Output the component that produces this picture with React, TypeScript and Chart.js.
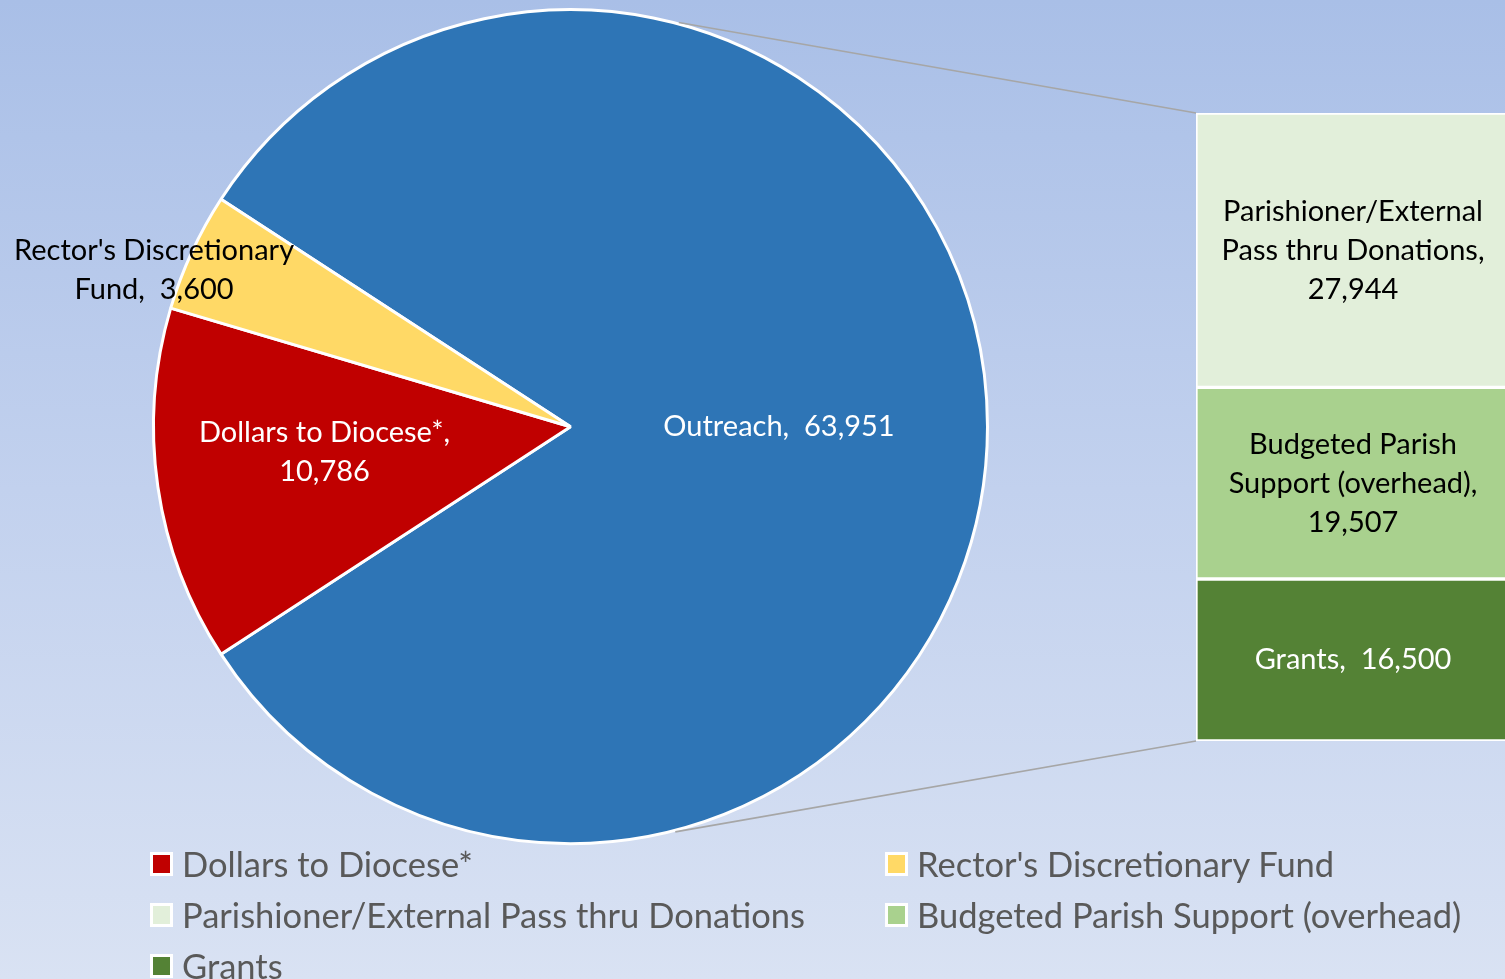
import React, { useEffect, useRef } from "react";
import { Chart, registerables } from "chart.js";
Chart.register(...registerables);

// ---- data ----
const pieNames = ["Outreach", "Dollars to Diocese*", "Rector's Discretionary Fund"];
const pieValues = [63951, 10786, 3600];
const pieColors = ["#2E75B6", "#C00000", "#FFD966"];
const pieLabelWrap = [["Outreach,  {v}"], ["Dollars to Diocese*,", "{v}"], ["Rector's Discretionary", "Fund,  {v}"]];

const barNames = ["Grants", "Budgeted Parish Support (overhead)", "Parishioner/External Pass thru Donations"];
const barValues = [16500, 19507, 27944];
const barColors = ["#548235", "#A9D18E", "#E2EFDA"];
const barLabelWrap = [["Grants,  {v}"], ["Budgeted Parish", "Support (overhead),", "{v}"], ["Parishioner/External", "Pass thru Donations,", "{v}"]];

const legendNames = ["Dollars to Diocese*", "Rector's Discretionary Fund", "Parishioner/External Pass thru Donations", "Budgeted Parish Support (overhead)", "Grants"];
const legendColors = ["#C00000", "#FFD966", "#E2EFDA", "#A9D18E", "#548235"];

// ---- layout ----
const W = 1505;
const H = 979;
const PIE_CX = 570.5;
const PIE_CY = 426.7;
const PIE_R = 417;
const BAR_LEFT = 1196;
const BAR_TOP = 113;
const BAR_BOTTOM = 741;
const BAR_CANVAS_X = 1190;
const BAR_CANVAS_W = 320;
const LABEL_FONT = "29px Lato";
const LINE_H = 39;
const LEGEND_COL_X = [150, 885];
const LEGEND_ROW_Y = [864, 915, 965.5];

const fmt = (v: number) => v.toLocaleString("en-US");

function drawLines(ctx: CanvasRenderingContext2D, lines: string[], x: number, y: number, color: string) {
  ctx.save();
  ctx.font = LABEL_FONT;
  ctx.fillStyle = color;
  ctx.textAlign = "center";
  ctx.textBaseline = "middle";
  const n = lines.length;
  lines.forEach((l, i) => {
    ctx.fillText(l, x, y + (i - (n - 1) / 2) * LINE_H);
  });
  ctx.restore();
}

const pieLabelPos = [
  { f: 0.5, dx: 0, dy: 0, color: "#FFFFFF" },
  { f: 0.596, dx: 0, dy: -10, color: "#FFFFFF" },
  { f: 1.1, dx: 0, dy: 36, color: "#000000" },
];

export default function App() {
  const pieRef = useRef<HTMLCanvasElement>(null);
  const barRef = useRef<HTMLCanvasElement>(null);

  useEffect(() => {
    const total = pieValues.reduce((a, b) => a + b, 0);
    const rotation = 90 - (pieValues[0] / total) * 180;

    const pieLabelsPlugin = {
      id: "pieLabels",
      afterDatasetsDraw(chart: any) {
        const ctx = chart.ctx;
        const meta = chart.getDatasetMeta(0);
        // connector lines from "Outreach" slice to bar
        const a0: any = meta.data[0];
        const cx = a0.x, cy = a0.y, r = a0.outerRadius + 1.5;
        ctx.save();
        ctx.strokeStyle = "#A6A6A6";
        ctx.lineWidth = 1.6;
        const angT = (-75 * Math.PI) / 180;
        const angB = (75.5 * Math.PI) / 180;
        ctx.beginPath();
        ctx.moveTo(cx + r * Math.cos(angT), cy + r * Math.sin(angT));
        ctx.lineTo(BAR_LEFT, BAR_TOP);
        ctx.moveTo(cx + r * Math.cos(angB), cy + r * Math.sin(angB));
        ctx.lineTo(BAR_LEFT, BAR_BOTTOM);
        ctx.stroke();
        ctx.restore();

        meta.data.forEach((arc: any, i: number) => {
          const mid = (arc.startAngle + arc.endAngle) / 2;
          const p = pieLabelPos[i];
          const d = arc.outerRadius * p.f;
          const x = arc.x + d * Math.cos(mid) + p.dx;
          const y = arc.y + d * Math.sin(mid) + p.dy;
          const lines = pieLabelWrap[i].map((s) => s.replace("{v}", fmt(pieValues[i])));
          drawLines(ctx, lines, x, y, p.color);
        });
      },
    };

    const pie = new Chart(pieRef.current!, {
      type: "pie",
      data: {
        labels: pieNames,
        datasets: [
          {
            data: pieValues,
            backgroundColor: pieColors,
            borderColor: "#FFFFFF",
            borderWidth: 3,
          },
        ],
      },
      options: {
        responsive: false,
        animation: false,
        events: [],
        rotation,
        radius: PIE_R,
        layout: { padding: { left: 0, top: 0, right: W - 2 * PIE_CX, bottom: H - 2 * PIE_CY } },
        plugins: { legend: { display: false }, tooltip: { enabled: false } },
      } as any,
      plugins: [pieLabelsPlugin],
    });

    const barLabelsPlugin = {
      id: "barLabels",
      afterDatasetsDraw(chart: any) {
        const ctx = chart.ctx;
        chart.data.datasets.forEach((_: any, i: number) => {
          const bar: any = chart.getDatasetMeta(i).data[0];
          const y = (bar.y + bar.base) / 2;
          const lines = barLabelWrap[i].map((s) => s.replace("{v}", fmt(barValues[i])));
          drawLines(ctx, lines, bar.x, y, i === 0 ? "#FFFFFF" : "#000000");
        });
      },
    };

    const barTotal = barValues.reduce((a, b) => a + b, 0);
    const bar = new Chart(barRef.current!, {
      type: "bar",
      data: {
        labels: [""],
        datasets: barValues.map((v, i) => ({
          label: barNames[i],
          data: [v],
          backgroundColor: barColors[i],
          borderColor: "#FFFFFF",
          borderWidth: 2,
          borderSkipped: false,
          barPercentage: 1,
          categoryPercentage: 1,
        })),
      },
      options: {
        responsive: false,
        animation: false,
        events: [],
        layout: {
          padding: { left: BAR_LEFT - BAR_CANVAS_X, right: 0, top: BAR_TOP, bottom: H - BAR_BOTTOM },
        },
        scales: {
          x: { stacked: true, display: false },
          y: { stacked: true, display: false, min: 0, max: barTotal },
        },
        plugins: { legend: { display: false }, tooltip: { enabled: false } },
      } as any,
      plugins: [barLabelsPlugin],
    });

    return () => {
      pie.destroy();
      bar.destroy();
    };
  }, []);

  return (
    <div
      style={{
        position: "fixed",
        left: 0,
        top: 0,
        width: W,
        height: H,
        overflow: "hidden",
        background: "linear-gradient(to bottom, #a9bfe7 0%, #c2d1ee 50%, #d9e2f3 100%)",
        fontFamily: "Lato, sans-serif",
      }}
    >
      <canvas ref={pieRef} width={W} height={H} style={{ position: "absolute", left: 0, top: 0 }} />
      <canvas
        ref={barRef}
        width={BAR_CANVAS_W}
        height={H}
        style={{ position: "absolute", left: BAR_CANVAS_X, top: 0 }}
      />
      {legendNames.map((name, i) => {
        const col = i % 2;
        const row = Math.floor(i / 2);
        return (
          <div
            key={name}
            style={{
              position: "absolute",
              left: LEGEND_COL_X[col],
              top: LEGEND_ROW_Y[row] - 20,
              height: 40,
              display: "flex",
              alignItems: "center",
              whiteSpace: "pre",
            }}
          >
            <div
              style={{
                width: 17,
                height: 18,
                background: legendColors[i],
                border: "3px solid #FFFFFF",
                marginRight: 9,
                flex: "none",
              }}
            />
            <span style={{ fontSize: 34.5, color: "#595959", lineHeight: "40px" }}>{name}</span>
          </div>
        );
      })}
    </div>
  );
}
